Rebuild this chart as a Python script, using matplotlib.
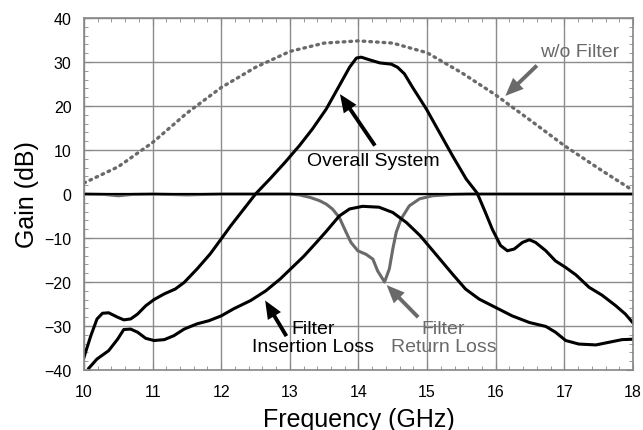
import matplotlib
matplotlib.use("Agg")
import matplotlib.pyplot as plt
from matplotlib.ticker import MultipleLocator

plt.rcParams['font.family'] = ['Liberation Sans', 'DejaVu Sans']

# w/o filter (gray dotted)
f_nofilt = [10.0, 10.5, 11.0, 11.5, 12.0, 12.5, 13.0, 13.5, 14.0, 14.5, 15.0, 15.5, 16.0, 16.5, 17.0, 17.5, 18.0]
g_nofilt = [2.5, 6.2, 11.7, 18.4, 24.2, 28.8, 32.4, 34.3, 34.8, 34.3, 32.1, 27.6, 22.5, 16.8, 11.0, 5.8, 0.8]

# overall system
f_sys = [10.0, 10.1, 10.19, 10.27, 10.36, 10.49, 10.58, 10.68, 10.78, 10.9, 11.02, 11.17, 11.33, 11.46,
         11.65, 11.84, 12.0, 12.14, 12.33, 12.5, 12.72, 12.93, 13.14, 13.33, 13.53, 13.72, 13.87, 13.97,
         14.04, 14.16, 14.31, 14.48, 14.57, 14.67, 14.79, 14.99, 15.18, 15.37, 15.57, 15.73, 15.85, 15.95,
         16.07, 16.17, 16.27, 16.39, 16.49, 16.58, 16.73, 16.87, 17.02, 17.17, 17.36, 17.55, 17.75, 17.89, 18.0]
g_sys = [-37.1, -32.2, -28.4, -27.1, -27.0, -28.0, -28.6, -28.4, -27.3, -25.4, -24.0, -22.7, -21.6, -20.1,
         -17.0, -13.6, -10.2, -7.2, -3.4, 0.0, 3.6, 7.2, 11.0, 14.8, 19.3, 24.6, 28.8, 30.9,
         31.1, 30.5, 29.8, 29.5, 28.8, 27.3, 24.2, 19.3, 14.0, 8.7, 3.4, 0.2, -4.2, -8.0,
         -11.7, -12.9, -12.5, -11.0, -10.4, -11.0, -12.9, -15.2, -16.7, -18.4, -21.2, -23.0, -25.4, -27.3, -29.3]

# filter insertion loss
f_ins = [10.07, 10.19, 10.36, 10.49, 10.58, 10.68, 10.78, 10.9, 11.02, 11.17, 11.31, 11.46, 11.65, 11.82,
         12.0, 12.18, 12.43, 12.65, 12.86, 13.06, 13.2, 13.37, 13.53, 13.72, 13.87, 14.06, 14.3, 14.5,
         14.7, 14.9, 15.09, 15.23, 15.37, 15.56, 15.76, 16.0, 16.24, 16.49, 16.73, 16.87, 17.02, 17.21,
         17.46, 17.65, 17.84, 18.0]
g_ins = [-39.6, -37.5, -35.6, -33.0, -30.8, -30.7, -31.4, -32.8, -33.3, -33.1, -32.2, -30.7, -29.5, -28.8,
         -27.7, -26.1, -24.2, -22.0, -19.3, -16.3, -14.2, -11.3, -8.5, -5.0, -3.4, -2.8, -3.0, -4.2,
         -6.5, -9.5, -13.0, -15.6, -18.2, -21.6, -23.9, -25.8, -27.7, -29.2, -30.1, -31.4, -33.3, -34.1,
         -34.3, -33.7, -33.1, -33.0]

# filter return loss (gray)
f_ret = [10.0, 10.3, 10.5, 10.7, 11.0, 11.5, 12.0, 13.0, 13.14, 13.3, 13.43, 13.53, 13.62, 13.72, 13.82,
         13.89, 13.99, 14.11, 14.21, 14.28, 14.38, 14.45, 14.5, 14.55, 14.62, 14.74, 14.89, 15.08, 15.37,
         15.6, 18.0]
g_ret = [0.0, -0.1, -0.4, -0.1, 0.0, -0.2, 0.0, 0.0, -0.2, -0.8, -1.5, -2.3, -3.4, -5.3, -8.7,
         -11.0, -12.9, -13.7, -14.8, -17.5, -20.0, -17.0, -12.5, -8.7, -5.7, -2.7, -1.1, -0.4, -0.1,
         0.0, 0.0]

fig = plt.figure(figsize=(6.43, 4.31), dpi=100)
ax = fig.add_axes([0.1306, 0.1392, 0.8538, 0.8167])

gray = '#6a6a6a'
ax.plot(f_nofilt, g_nofilt, color=gray, lw=2.4, linestyle=(0, (0.5, 1.5)), dash_capstyle='round')
ax.plot(f_ret, g_ret, color=gray, lw=2.2, solid_joinstyle='round')
ax.axhline(0, color='black', lw=1.6)
ax.plot(f_ins, g_ins, color='black', lw=2.2, solid_joinstyle='round')
ax.plot(f_sys, g_sys, color='black', lw=2.2, solid_joinstyle='round')

ax.set_xlim(10, 18)
ax.set_ylim(-40, 40)
ax.xaxis.set_major_locator(MultipleLocator(1))
ax.xaxis.set_minor_locator(MultipleLocator(0.2))
ax.yaxis.set_major_locator(MultipleLocator(10))
ax.yaxis.set_minor_locator(MultipleLocator(2))
ax.tick_params(which='both', direction='in', top=True, right=True, color='#888888')
ax.tick_params(which='major', length=5, labelsize=11.5)
ax.tick_params(axis='x', which='major', pad=10)
ax.tick_params(axis='y', which='major', pad=9)
ax.tick_params(which='minor', length=3)
ax.grid(True, which='major', color='#8c8c8c', lw=1.0)
for s in ax.spines.values():
    s.set_color('#888888')
    s.set_linewidth(1.2)

ax.set_xlabel('Frequency (GHz)', fontsize=18, labelpad=6)
ax.set_ylabel('Gain (dB)', fontsize=18, labelpad=4)

arrow = 'simple,head_length=1.3,head_width=1.1,tail_width=0.28'
labels = [
    ('w/o Filter', (17.23, 32.5), (16.14, 22.3), (16.6, 29.2), gray),
    ('Overall System', (14.21, 7.6), (13.73, 22.7), (14.24, 11.0), 'black'),
    ('Filter\nInsertion Loss', (13.34, -32.6), (12.64, -24.2), (12.95, -32.3), 'black'),
    ('Filter\nReturn Loss', (15.24, -32.6), (14.41, -20.7), (14.87, -28.0), gray),
]
for txt, pos, tip, tail, c in labels:
    ax.text(pos[0], pos[1], txt, color=c, fontsize=14, ha='center', va='center', linespacing=1.05)
    ax.annotate('', xy=tip, xytext=tail,
                arrowprops=dict(arrowstyle=arrow, color=c, lw=0, mutation_scale=10, shrinkA=0, shrinkB=0))

fig.savefig('out.png', dpi=100)
